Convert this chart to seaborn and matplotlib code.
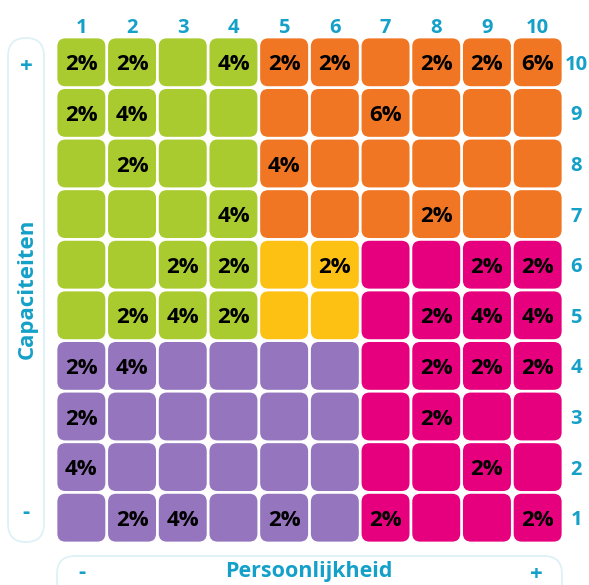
import numpy as np
import pandas as pd
import matplotlib
matplotlib.use("Agg")
import matplotlib.pyplot as plt
import seaborn as sns
from matplotlib.colors import ListedColormap
from matplotlib.patches import FancyBboxPatch

# axis categories
persoonlijkheid = [1, 2, 3, 4, 5, 6, 7, 8, 9, 10]
capaciteiten = [10, 9, 8, 7, 6, 5, 4, 3, 2, 1]

# region of each cell (0 green, 1 orange, 2 yellow, 3 magenta, 4 purple)
regions = [
    [0, 0, 0, 0, 1, 1, 1, 1, 1, 1],
    [0, 0, 0, 0, 1, 1, 1, 1, 1, 1],
    [0, 0, 0, 0, 1, 1, 1, 1, 1, 1],
    [0, 0, 0, 0, 1, 1, 1, 1, 1, 1],
    [0, 0, 0, 0, 2, 2, 3, 3, 3, 3],
    [0, 0, 0, 0, 2, 2, 3, 3, 3, 3],
    [4, 4, 4, 4, 4, 4, 3, 3, 3, 3],
    [4, 4, 4, 4, 4, 4, 3, 3, 3, 3],
    [4, 4, 4, 4, 4, 4, 3, 3, 3, 3],
    [4, 4, 4, 4, 4, 4, 3, 3, 3, 3],
]

# percentage per cell (0 = no label)
percentages = [
    [2, 2, 0, 4, 2, 2, 0, 2, 2, 6],
    [2, 4, 0, 0, 0, 0, 6, 0, 0, 0],
    [0, 2, 0, 0, 4, 0, 0, 0, 0, 0],
    [0, 0, 0, 4, 0, 0, 0, 2, 0, 0],
    [0, 0, 2, 2, 0, 2, 0, 0, 2, 2],
    [0, 2, 4, 2, 0, 0, 0, 2, 4, 4],
    [2, 4, 0, 0, 0, 0, 0, 2, 2, 2],
    [2, 0, 0, 0, 0, 0, 0, 2, 0, 0],
    [4, 0, 0, 0, 0, 0, 0, 0, 2, 0],
    [0, 2, 4, 0, 2, 0, 2, 0, 0, 2],
]

region_colors = ["#a9cb2f", "#f07623", "#fdc113", "#e6007e", "#9575be"]
accent = "#14a0c8"

df = pd.DataFrame(regions, index=capaciteiten, columns=persoonlijkheid)
labels = np.array([[f"{v}%" if v else "" for v in row] for row in percentages])
cmap = ListedColormap(region_colors)

W, H = 589, 585
fig = plt.figure(figsize=(W / 100, H / 100), dpi=100)

# background decorations in pixel coordinates
deco = fig.add_axes([0, 0, 1, 1])
deco.set_xlim(0, W)
deco.set_ylim(H, 0)
deco.axis("off")
deco.add_patch(FancyBboxPatch((8, 38), 36, 504, boxstyle="round,pad=0,rounding_size=18",
                              facecolor="white", edgecolor="#dcf0f6", lw=1.2))
deco.add_patch(FancyBboxPatch((57, 556), 505, 60, boxstyle="round,pad=0,rounding_size=18",
                              facecolor="white", edgecolor="#dcf0f6", lw=1.2))
txt = dict(color=accent, fontweight="bold", family="Open Sans", ha="center", va="center")
deco.text(26, 66, "+", fontsize=16, **txt)
deco.text(26, 512, "-", fontsize=16, **txt)
deco.text(27, 289, "Capaciteiten", fontsize=16, rotation=90, **txt)
deco.text(82, 573, "-", fontsize=16, **txt)
deco.text(309, 572, "Persoonlijkheid", fontsize=15.5, **txt)
deco.text(536, 574, "+", fontsize=16, **txt)

ax = fig.add_axes([56 / W, (H - 543) / H, 507 / W, 506 / H])
sns.heatmap(df, cmap=cmap, vmin=-0.5, vmax=4.5, annot=labels, fmt="", cbar=False, ax=ax,
            annot_kws=dict(color="black", fontsize=16, fontweight="bold", family="Open Sans"))
ax.collections[0].set_visible(False)
for t in ax.texts:
    x, y = t.get_position()
    t.set_position((x, y + 0.05))

inset = 0.027
for i in range(len(capaciteiten)):
    for j in range(len(persoonlijkheid)):
        ax.add_patch(FancyBboxPatch((j + inset, i + inset), 1 - 2 * inset, 1 - 2 * inset,
                                    boxstyle="round,pad=0,rounding_size=0.16",
                                    facecolor=cmap(regions[i][j]), edgecolor="none", zorder=1))

ax.xaxis.tick_top()
ax.yaxis.tick_right()
ax.tick_params(length=0, labelsize=14.5, labelcolor=accent)
ax.tick_params(axis="x", pad=-1)
ax.tick_params(axis="y", pad=9.5, rotation=0)
for t in ax.get_xticklabels() + ax.get_yticklabels():
    t.set_fontweight("bold")
    t.set_family("Open Sans")
for t in ax.get_yticklabels():
    t.set_ha("center")
ax.set_xlabel("")
ax.set_ylabel("")
for s in ax.spines.values():
    s.set_visible(False)

fig.savefig("out.png", dpi=100)
